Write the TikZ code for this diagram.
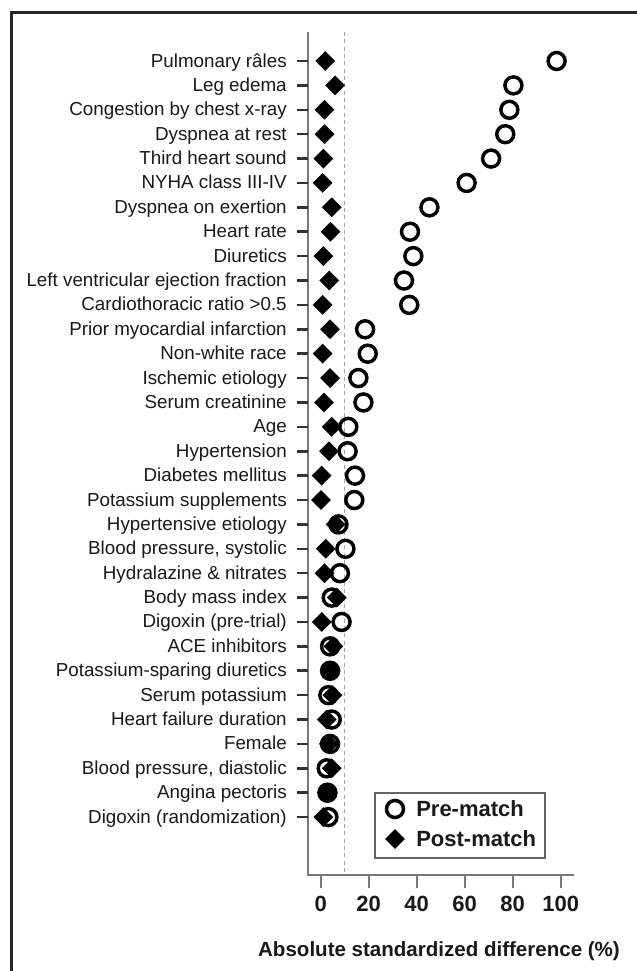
\documentclass[tikz,border=0pt]{standalone}
\usepackage{fontspec}
\setmainfont{Liberation Sans}
\usetikzlibrary{shapes.geometric}
\definecolor{axgray}{RGB}{120,120,120}
\definecolor{dashgray}{RGB}{165,165,165}
\definecolor{ink}{RGB}{25,25,25}
\definecolor{leggray}{RGB}{100,100,100}
\begin{document}
\begin{tikzpicture}[x=0.75pt,y=-0.75pt,
  lab/.style={anchor=base east, font=\fontsize{14.1}{16}\selectfont, text=ink, inner sep=0},
  premark/.style={circle, draw=black, line width=2.6pt, minimum size=12.75pt, inner sep=0},
  postmark/.style={diamond, fill=black, minimum size=15pt, aspect=1, inner sep=0},
  ticklab/.style={anchor=base, font=\bfseries\fontsize{16.5}{18}\selectfont, text=ink, inner sep=0},
  axtitle/.style={anchor=base, font=\bfseries\fontsize{15.4}{18}\selectfont, text=ink, inner sep=0},
  legtext/.style={anchor=base west, font=\bfseries\fontsize{16.5}{18}\selectfont, text=ink, inner sep=0},
  axline/.style={axgray, line width=1.5pt},
  rowtick/.style={black!80, line width=1.9pt},
  refline/.style={dashgray, line width=1.1pt, dash pattern=on 3pt off 2.5pt}]
\useasboundingbox (0,0) rectangle (636,971);
\fill[white] (0,0) rectangle (636,971);
% frame (only top and left visible)
\draw[black!85, line width=2.25pt] (11.5,980) -- (11.5,12.5) -- (645,12.5);
% axes
\coordinate (ytop) at (308,32);
\coordinate (origin) at (308,875);
\coordinate (xend) at (574,875);
\coordinate (dtop) at (344.5,32);
\coordinate (dbot) at (344.5,875);
\draw[refline] (dtop) -- (dbot);
\draw[axline] (ytop) -- (origin) -- (xend);
% x ticks and labels
\begin{scope}
\clip (0,0) rectangle (577.5,971);
\foreach \v in {0,20,40,60,80,100}{
  \draw[axline] ({320.7+2.4*\v},875) -- ({320.7+2.4*\v},888);
  \node[ticklab] (xt\v) at ({320.7+2.4*\v},911.7) {\v};
}
\end{scope}
\node[axtitle] (xtitle) at (439,956.7) {Absolute standardized difference (\%)};
% rows
\foreach \i/\lab/\pre/\post in {
  1/{Pulmonary râles}/98.3/1.9,
  2/{Leg edema}/80.3/6.0,
  3/{Congestion by chest x-ray}/78.6/1.6,
  4/{Dyspnea at rest}/76.9/1.6,
  5/{Third heart sound}/71.0/1.1,
  6/{NYHA class III-IV}/60.8/0.8,
  7/{Dyspnea on exertion}/45.3/4.6,
  8/{Heart rate}/37.2/4.1,
  9/{Diuretics}/38.6/1.1,
  10/{Left ventricular ejection fraction}/34.7/3.6,
  11/{Cardiothoracic ratio >0.5}/36.9/0.8,
  12/{Prior myocardial infarction}/18.5/3.9,
  13/{Non-white race}/19.6/0.8,
  14/{Ischemic etiology}/15.7/3.9,
  15/{Serum creatinine}/17.8/1.4,
  16/{Age}/11.5/4.6,
  17/{Hypertension}/11.2/3.5,
  18/{Diabetes mellitus}/14.3/0.4,
  19/{Potassium supplements}/14.0/0.1,
  20/{Hypertensive etiology}/7.4/6.2,
  21/{Blood pressure, systolic}/10.3/2.1,
  22/{Hydralazine \& nitrates}/8.0/1.6,
  23/{Body mass index}/4.6/6.7,
  24/{Digoxin (pre-trial)}/8.7/0.4,
  25/{ACE inhibitors}/3.9/5.3,
  26/{Potassium-sparing diuretics}/3.9/4.2,
  27/{Serum potassium}/3.2/4.9,
  28/{Heart failure duration}/4.6/2.5,
  29/{Female}/3.9/3.4,
  30/{Blood pressure, diastolic}/2.5/4.6,
  31/{Angina pectoris}/2.8/2.8,
  32/{Digoxin (randomization)}/3.2/1.1}{
  \pgfmathsetmacro{\y}{61+24.39*(\i-1)}
  \node[lab] (lab\i) at (287,\y+6) {\lab};
  \draw[rowtick] (297,\y) -- (308,\y);
  \node[premark] (pre\i) at ({320.7+2.4*\pre},\y) {};
  \node[postmark] (post\i) at ({320.7+2.4*\post},\y) {};
}
% legend
\node[draw=leggray, line width=1.5pt, minimum width=127.5pt, minimum height=48.75pt, inner sep=0] (legbox) at (460,825.5) {};
\node[premark] (legpre) at (395,809) {};
\node[postmark] (legpost) at (395,839) {};
\node[legtext] (legpretext) at (416,816.7) {Pre-match};
\node[legtext] (legposttext) at (416,846.7) {Post-match};
\end{tikzpicture}
\end{document}
